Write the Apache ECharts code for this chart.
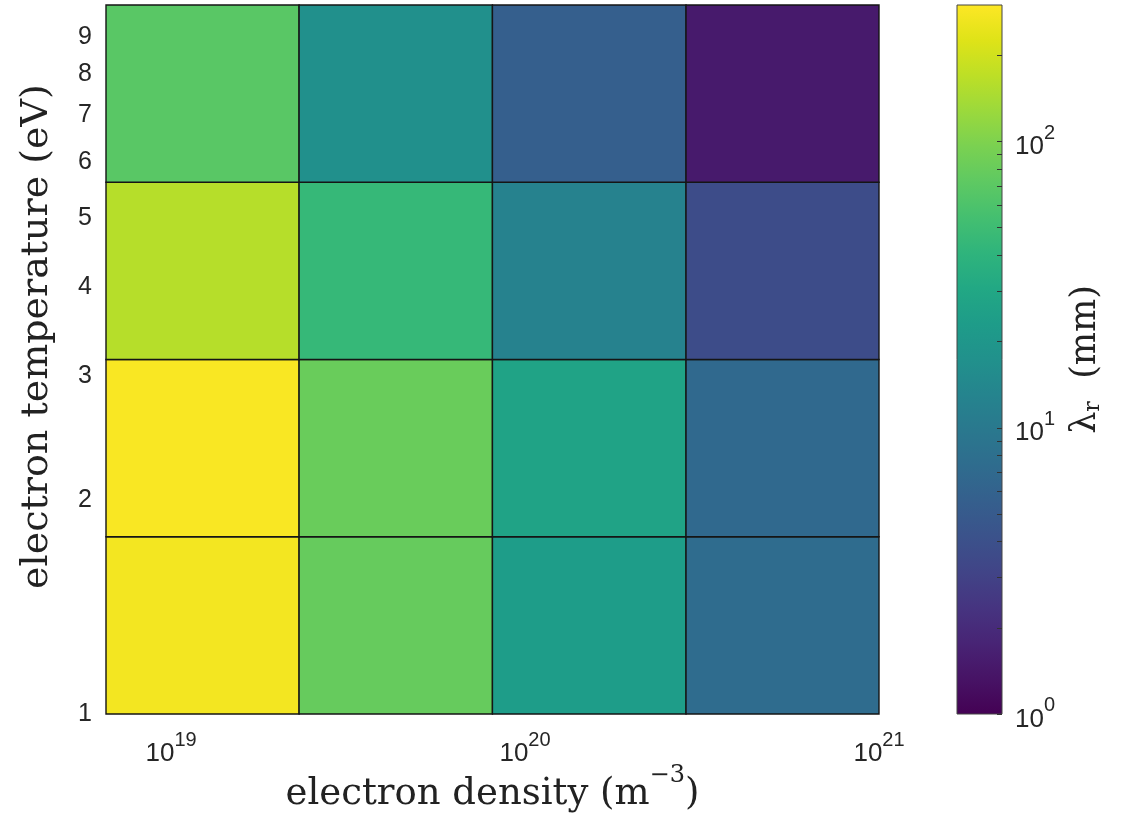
<!DOCTYPE html>
<html>
<head>
<meta charset="utf-8">
<script src="https://cdn.jsdelivr.net/npm/echarts@6/dist/echarts.min.js"></script>
<style>
  html, body { margin: 0; padding: 0; background: #fff; }
  #chart { width: 1127px; height: 816px; }
</style>
</head>
<body>
<div id="chart"></div>
<script>
// cell edges (log-spaced bins)
var densityEdges = [6.55e18, 2.30e19, 8.09e19, 2.85e20, 1e21]
var temperatureEdges = [1, 1.778, 3.162, 5.623, 10]

// lambda_r (mm), one row per temperature bin (low -> high), columns by density
var lambdaRows = [
  [274, 78, 23.6, 7.3],
  [290, 81, 27, 6.9],
  [160, 45, 12.3, 3.7],
  [68, 17, 5.5, 1.5]
]

var densityTicks = [1e19, 1e20, 1e21]
var temperatureTicks = [1, 2, 3, 4, 5, 6, 7, 8, 9]
var colorbarRange = [1, 300]
var colorbarLabels = [1, 10, 100]
var colorbarTicks = [1, 2, 3, 4, 5, 6, 7, 8, 9, 10, 20, 30, 40, 50, 60, 70, 80, 90, 100, 200]

var viridis = ['#440154', '#471365', '#482475', '#463480', '#414487', '#3b528b',
  '#355f8d', '#2f6c8e', '#2a788e', '#25848e', '#21918c', '#1e9c89', '#22a884',
  '#2fb47c', '#44bf70', '#5ec962', '#7ad151', '#9bd93c', '#bddf26', '#dfe318', '#fde725']

var cells = []
lambdaRows.forEach(function (row, i) {
  row.forEach(function (v, j) {
    cells.push([densityEdges[j], densityEdges[j + 1], temperatureEdges[i], temperatureEdges[i + 1], v, Math.log10(v)])
  })
})

var sansFont = 'Liberation Sans'
var serifFont = 'DejaVu Serif'
var labelColor = '#262626'
var titleColor = '#222'

function powLabel (v) {
  var e = Math.log10(v)
  if (Math.abs(e - Math.round(e)) > 1e-4) return ''
  return '{b|10}{s|' + Math.round(e) + '}'
}
var powRich = {
  b: { fontFamily: sansFont, fontSize: 26, color: labelColor, padding: [11, 0, 0, 0] },
  s: { fontFamily: sansFont, fontSize: 20, color: labelColor, verticalAlign: 'top' }
}

var chart = echarts.init(document.getElementById('chart'))
chart.setOption({
  animation: false,
  grid: [
    { left: 106, right: 248, top: 5, bottom: 102, show: false, outerBoundsMode: 'none', containLabel: false },
    { left: 957, width: 45, top: 5, bottom: 102, show: false, outerBoundsMode: 'none', containLabel: false }
  ],
  visualMap: {
    show: false,
    type: 'continuous',
    seriesIndex: 0,
    dimension: 5,
    min: Math.log10(colorbarRange[0]),
    max: Math.log10(colorbarRange[1]),
    inRange: { color: viridis }
  },
  xAxis: [{
    type: 'log',
    gridIndex: 0,
    min: densityEdges[0],
    // tiny headroom so the 1e21 label survives float rounding
    max: densityEdges[4] * 1.00001,
    axisLine: { show: false },
    axisTick: { show: false },
    splitLine: { show: false },
    axisLabel: {
      customValues: densityTicks,
      margin: 16,
      showMinLabel: true,
      showMaxLabel: true,
      hideOverlap: false,
      formatter: powLabel,
      rich: powRich
    },
    name: '{t|electron density (m}{s|−3}{t|)}',
    nameLocation: 'middle',
    nameGap: 50,
    nameMoveOverlap: false,
    nameTextStyle: {
      rich: {
        t: { fontFamily: serifFont, fontSize: 37, color: titleColor, padding: [12, 0, 0, 0] },
        s: { fontFamily: serifFont, fontSize: 24, color: titleColor, verticalAlign: 'top' }
      }
    }
  }, {
    type: 'value',
    gridIndex: 1,
    min: 0,
    max: 1,
    show: false
  }],
  yAxis: [{
    type: 'log',
    gridIndex: 0,
    min: temperatureEdges[0],
    max: temperatureEdges[4],
    axisLine: { show: false },
    axisTick: { show: false },
    splitLine: { show: false },
    axisLabel: {
      customValues: temperatureTicks,
      margin: 14,
      fontFamily: sansFont,
      fontSize: 25,
      color: labelColor
    },
    name: 'electron temperature (eV)',
    nameLocation: 'middle',
    nameGap: 50,
    nameMoveOverlap: false,
    nameTextStyle: {
      fontFamily: serifFont,
      fontSize: 38,
      color: titleColor,
      padding: [0, 0, 0, 46]
    }
  }, {
    type: 'log',
    gridIndex: 1,
    position: 'right',
    z: 10,
    min: colorbarRange[0],
    max: colorbarRange[1],
    axisLine: { show: false, onZero: false },
    splitLine: { show: false },
    axisTick: {
      show: true,
      inside: true,
      length: 5,
      customValues: colorbarTicks,
      lineStyle: { color: '#333', width: 1 }
    },
    axisLabel: {
      customValues: colorbarLabels,
      margin: 13,
      showMinLabel: true,
      showMaxLabel: true,
      formatter: powLabel,
      rich: powRich
    },
    name: '{l|λ}{sub|r}{t|  (mm)}',
    nameLocation: 'middle',
    nameRotate: 90,
    nameGap: 66,
    nameMoveOverlap: false,
    nameTextStyle: {
      rich: {
        l: { fontFamily: serifFont, fontSize: 35, color: titleColor },
        sub: { fontFamily: serifFont, fontSize: 22, color: titleColor, padding: [14, 0, 0, 0] },
        t: { fontFamily: serifFont, fontSize: 35, color: titleColor }
      }
    }
  }],
  series: [{
    type: 'custom',
    xAxisIndex: 0,
    yAxisIndex: 0,
    data: cells,
    encode: { x: [0, 1], y: [2, 3] },
    renderItem: function (params, api) {
      var p0 = api.coord([api.value(0), api.value(2)])
      var p1 = api.coord([api.value(1), api.value(3)])
      return {
        type: 'rect',
        shape: { x: p0[0], y: p1[1], width: p1[0] - p0[0], height: p0[1] - p1[1] },
        style: { fill: api.visual('color'), stroke: '#151515', lineWidth: 1.4 }
      }
    }
  }, {
    // colour bar
    type: 'custom',
    xAxisIndex: 1,
    yAxisIndex: 1,
    z: 1,
    data: [[0, 1, colorbarRange[0], colorbarRange[1]]],
    encode: { x: [0, 1], y: [2, 3] },
    silent: true,
    renderItem: function (params, api) {
      var p0 = api.coord([api.value(0), api.value(2)])
      var p1 = api.coord([api.value(1), api.value(3)])
      var stops = viridis.map(function (c, k) {
        return { offset: k / (viridis.length - 1), color: c }
      })
      return {
        type: 'rect',
        shape: { x: p0[0], y: p1[1], width: p1[0] - p0[0], height: p0[1] - p1[1] },
        style: {
          fill: new echarts.graphic.LinearGradient(0, 1, 0, 0, stops),
          stroke: '#444',
          lineWidth: 1
        }
      }
    }
  }]
})
</script>
</body>
</html>
